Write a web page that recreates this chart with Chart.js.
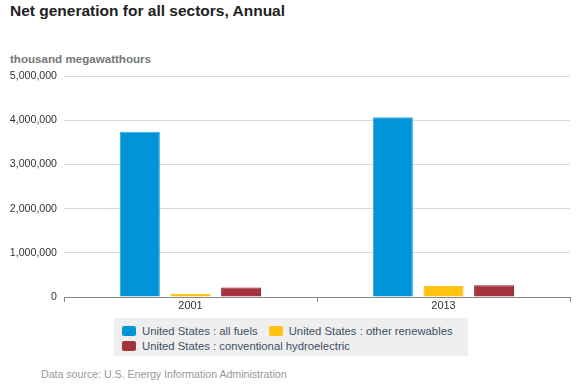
<!DOCTYPE html>
<html>
<head>
<meta charset="utf-8">
<script src="https://cdn.jsdelivr.net/npm/chart.js@4"></script>
<style>
  body { margin: 0; width: 580px; height: 386px; background: #fff; font-family: "Liberation Sans", Arial, sans-serif; position: relative; overflow: hidden; }
  #title { position: absolute; left: 10px; top: 2px; font-size: 15.5px; font-weight: bold; color: #222; }
  #ytitle { position: absolute; left: 10px; top: 52px; font-size: 11.6px; font-weight: bold; color: #777; }
  #chart { position: absolute; left: 0; top: 0; }
  #legend { position: absolute; left: 114px; top: 318px; width: 346px; height: 30px; padding: 6px 0 2px 8px; background: #efefef; font-size: 11.3px; color: #3d4d63; line-height: 14px; }
  .item { display: inline-flex; align-items: center; margin-right: 8px; height: 14px; white-space: nowrap; }
  .sw { width: 14px; height: 10px; border-radius: 2px; margin-right: 6px; display: inline-block; }
  #source { position: absolute; left: 41px; top: 368px; font-size: 10.6px; color: #999; }
</style>
</head>
<body>
<div id="title">Net generation for all sectors, Annual</div>
<div id="ytitle">thousand megawatthours</div>
<canvas id="chart" width="580" height="320"></canvas>
<div id="legend"></div>
<div id="source">Data source: U.S. Energy Information Administration</div>
<script>
// Chart data
const years = ['2001', '2013'];
const allFuels = [3736644, 4065964];
const otherRenewables = [70769, 253155];
const hydro = [216961, 268565];
const yTicks = [0, 1000000, 2000000, 3000000, 4000000, 5000000];

const seriesNames = [
    'United States : all fuels',
    'United States : other renewables',
    'United States : conventional hydroelectric'
];
const seriesColors = ['#0095d9', '#ffc20e', '#a5323f'];
const seriesBorders = ['#3aa9e3', '#f5b800', '#8e1b2b'];

const datasets = [allFuels, otherRenewables, hydro].map((values, i) => ({
    label: seriesNames[i],
    data: values,
    backgroundColor: seriesColors[i],
    borderColor: seriesBorders[i],
    borderWidth: 1,
    categoryPercentage: 0.6,
    barPercentage: 0.79
}));

const ctx = document.getElementById('chart').getContext('2d');
new Chart(ctx, {
    type: 'bar',
    data: { labels: years, datasets: datasets },
    options: {
        responsive: false,
        animation: false,
        devicePixelRatio: 1,
        layout: { padding: { top: 76, right: 10, left: 0, bottom: 0 } },
        plugins: { legend: { display: false }, tooltip: { enabled: false } },
        scales: {
            x: {
                grid: { offset: true, drawOnChartArea: false, drawTicks: true, tickLength: 5, color: '#888' },
                border: { display: true, color: '#888' },
                ticks: { color: '#333', font: { family: 'Liberation Sans', size: 11 }, padding: -3 },
                afterFit: scale => { scale.height = 23; }
            },
            y: {
                min: 0,
                max: 5000000,
                afterBuildTicks: scale => { scale.ticks = yTicks.map(v => ({ value: v })); },
                grid: { color: '#d9d9d9', drawTicks: false },
                border: { display: false },
                ticks: {
                    color: '#333',
                    font: { family: 'Liberation Sans', size: 10.6 },
                    padding: 7,
                    callback: value => Number(value).toLocaleString('en-US')
                },
                afterFit: scale => { scale.width = 64; }
            }
        }
    }
});

// HTML legend built from the series
document.getElementById('legend').innerHTML = seriesNames.map((name, i) => `
    <span class="item"><span class="sw" style="background:${seriesColors[i]}"></span>${name}</span>`).join('');
</script>
</body>
</html>
